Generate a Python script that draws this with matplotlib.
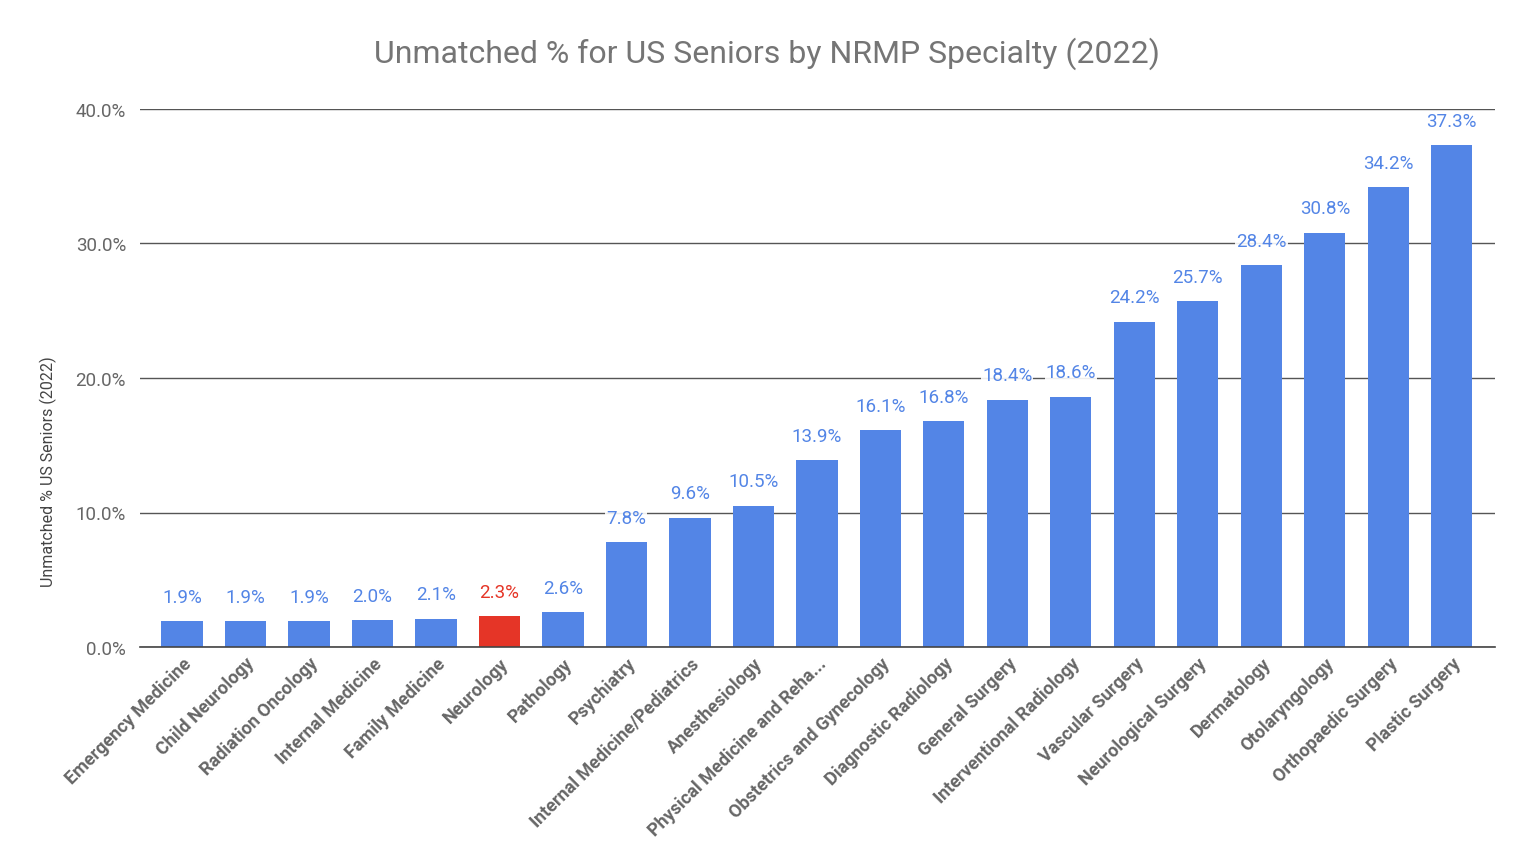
import matplotlib
matplotlib.use("Agg")
import matplotlib.pyplot as plt
from matplotlib.ticker import FuncFormatter

categories = ["Emergency Medicine", "Child Neurology", "Radiation Oncology", "Internal Medicine",
              "Family Medicine", "Neurology", "Pathology", "Psychiatry", "Internal Medicine/Pediatrics",
              "Anesthesiology", "Physical Medicine and Reha...", "Obstetrics and Gynecology",
              "Diagnostic Radiology", "General Surgery", "Interventional Radiology", "Vascular Surgery",
              "Neurological Surgery", "Dermatology", "Otolaryngology", "Orthopaedic Surgery", "Plastic Surgery"]
values = [1.9, 1.9, 1.9, 2.0, 2.1, 2.3, 2.6, 7.8, 9.6, 10.5, 13.9, 16.1, 16.8, 18.4, 18.6,
          24.2, 25.7, 28.4, 30.8, 34.2, 37.3]
highlight = "Neurology"
yticks = [0, 10, 20, 30, 40]

plt.rcParams['font.family'] = ['Roboto', 'DejaVu Sans']
BLUE = "#5385E6"
RED = "#E53527"

W, H = 1536, 862
fig = plt.figure(figsize=(W / 100, H / 100), dpi=100)
ax = fig.add_axes([140 / W, 1 - 648 / H, (1495 - 140) / W, (648 - 110) / H])

x = list(range(len(categories)))
colors = [RED if c == highlight else BLUE for c in categories]
ax.bar(x, values, width=0.65, color=colors, zorder=3)

for xi, v, c in zip(x, values, colors):
    ax.annotate(f"{v:.1f}%", (xi, v), xytext=(0, 14), textcoords="offset points",
                ha="center", va="baseline", fontsize=13.5, color=c, zorder=5,
                bbox=dict(boxstyle="square,pad=0.05", fc="white", ec="none", alpha=0.9))

ax.set_xlim(-0.66, len(categories) - 1 + 0.68)
ax.set_ylim(0, 40)
ax.set_yticks(yticks)
ax.yaxis.set_major_formatter(FuncFormatter(lambda v, p: f"{v:.1f}%"))
ax.grid(axis="y", color="#555555", linewidth=1.0, zorder=0)
ax.tick_params(axis="y", length=0, pad=10, labelsize=13.5, labelcolor="#666666")
ax.tick_params(axis="x", length=0, pad=5, labelsize=13, labelcolor="#666666")
ax.set_xticks(x)
ax.set_xticklabels(categories, rotation=45, ha="right", va="top", rotation_mode="anchor",
                   fontweight="bold")
for s in ["top", "right", "left"]:
    ax.spines[s].set_visible(False)
ax.spines["bottom"].set_color("#444444")
ax.spines["bottom"].set_linewidth(1.2)
ax.spines["bottom"].set_zorder(4)

fig.text(767 / W, 1 - 54 / H, "Unmatched % for US Seniors by NRMP Specialty (2022)",
         ha="center", va="center", fontsize=23, color="#757575")
fig.text(48 / W, 1 - 472 / H, "Unmatched % US Seniors (2022)", rotation=90,
         ha="center", va="center", fontsize=11.5, color="#444444")

fig.savefig("out.png", dpi=100, facecolor="white")
